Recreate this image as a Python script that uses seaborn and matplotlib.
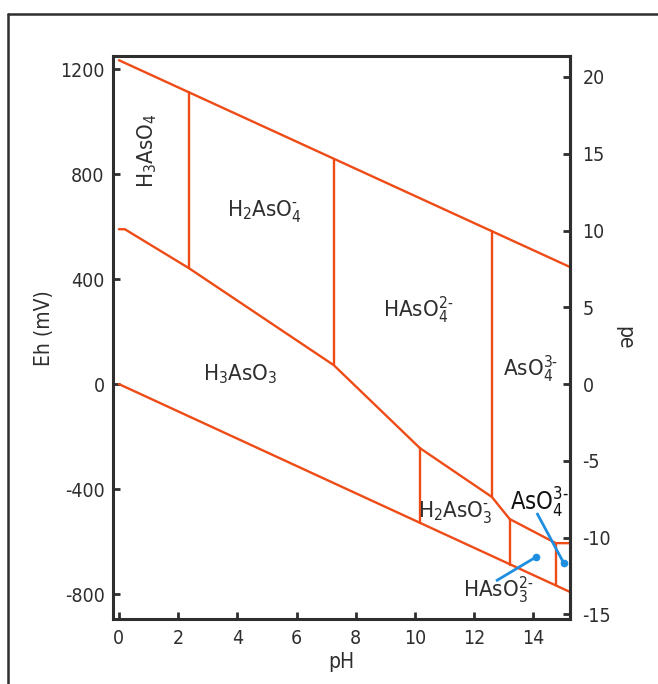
import pandas as pd
import seaborn as sns
import matplotlib.pyplot as plt
from matplotlib.lines import Line2D

RED = '#EE4B16'
BLUE = '#1E8FE0'
INK = '#2E2E2E'

# boundaries: pH and Eh (mV)
upper_water_ph = [0.0, 15.24]
upper_water_eh = [1234, 446]
lower_water_ph = [0.0, 15.24]
lower_water_eh = [0, -792]
redox_ph = [0.0, 0.2, 2.36, 7.26, 10.17, 12.6, 13.2, 14.76, 15.24]
redox_eh = [590, 590, 442, 72, -244, -430, -514, -606, -606]

# vertical (acid/base) boundaries
pka_ph = [2.36, 7.26, 12.6, 10.17, 13.2, 14.76]
pka_eh_low = [442, 72, -430, -530, -690, -767]
pka_eh_high = [1112, 858, 583, -244, -514, -606]

# species names and where they sit
species = [r'H$_2$AsO$_4^{\text{-}}$', r'HAsO$_4^{\text{2-}}$', r'AsO$_4^{\text{3-}}$',
           r'H$_3$AsO$_3$', r'H$_2$AsO$_3^{\text{-}}$', r'HAsO$_3^{\text{2-}}$']
species_ph = [4.9, 10.1, 13.92, 4.09, 11.35, 12.8]
species_eh = [659, 282, 57, 38, -488, -785]

# blue leader lines (start, end)
leader_ph = [[14.12, 15.03], [12.74, 14.09]]
leader_eh = [[-491, -682], [-750, -659]]

eh_ticks = [1200, 800, 400, 0, -400, -800]
pe_ticks = [20, 15, 10, 5, 0, -5, -10, -15]
ph_ticks = [0, 2, 4, 6, 8, 10, 12, 14]
MV_PER_PE = 58.5


def build_segments():
    rows = []
    for i, (x, y) in enumerate(zip(upper_water_ph, upper_water_eh)):
        rows.append(('upper', x, y, i))
    for i, (x, y) in enumerate(zip(lower_water_ph, lower_water_eh)):
        rows.append(('lower', x, y, i))
    for i, (x, y) in enumerate(zip(redox_ph, redox_eh)):
        rows.append(('redox', x, y, i))
    for k, (x, lo, hi) in enumerate(zip(pka_ph, pka_eh_low, pka_eh_high)):
        rows.append((f'pka{k}', x, lo, 0))
        rows.append((f'pka{k}', x, hi, 1))
    return pd.DataFrame(rows, columns=['seg', 'pH', 'Eh', 'order'])


sns.set_theme(style='ticks')
plt.rcParams['font.family'] = ['DejaVu Sans']
plt.rcParams['font.stretch'] = 'condensed'
plt.rcParams['axes.unicode_minus'] = False
plt.rcParams['mathtext.fontset'] = 'custom'
plt.rcParams['mathtext.rm'] = 'DejaVu Sans:stretch=condensed'
plt.rcParams['mathtext.it'] = 'DejaVu Sans:stretch=condensed'
plt.rcParams['mathtext.default'] = 'regular'

fig = plt.figure(figsize=(6.58, 6.84), dpi=100)
ax = fig.add_axes([113 / 658, 1 - 619 / 684, 457 / 658, 563 / 684])

df = build_segments()
sns.lineplot(data=df, x='pH', y='Eh', units='seg', estimator=None, sort=False,
             color=RED, lw=1.7, ax=ax, legend=False)

for xs, ys in zip(leader_ph, leader_eh):
    ax.plot(xs, ys, color=BLUE, lw=2.0, solid_capstyle='butt')
    ax.plot(xs[1], ys[1], 'o', color=BLUE, ms=4.5)

ax.set_xlim(-0.2, 15.24)
ax.set_ylim(-895, 1250)
ax.set_xticks(ph_ticks)
ax.set_yticks(eh_ticks)
ax.set_xlabel('pH', fontsize=15, color=INK, labelpad=3)
ax.set_ylabel('Eh (mV)', fontsize=15, color=INK)
ax.yaxis.set_label_coords(-0.13, 0.517)

for side in ['left', 'right', 'top', 'bottom']:
    ax.spines[side].set_visible(True)
    ax.spines[side].set_linewidth(2.2)
    ax.spines[side].set_color(INK)

ax.tick_params(axis='both', direction='in', length=5, width=2, color=INK,
               labelcolor=INK, labelsize=14)
ax.tick_params(axis='y', pad=6)
ax.tick_params(axis='x', pad=7)

sec = ax.secondary_yaxis('right', functions=(lambda e: e / MV_PER_PE,
                                              lambda p: p * MV_PER_PE))
sec.set_yticks(pe_ticks)
sec.spines['right'].set_linewidth(2.2)
sec.spines['right'].set_color(INK)
sec.tick_params(direction='in', length=5, width=2, color=INK,
                labelcolor=INK, labelsize=14, pad=9)
sec.set_ylabel('pe', fontsize=15, color=INK, rotation=270, labelpad=17)

ax.text(0.95, 891, r'H$_3$AsO$_4$', rotation=90, ha='center', va='center',
        fontsize=16, color=INK)
for name, x, y in zip(species, species_ph, species_eh):
    ax.text(x, y, name, ha='center', va='center', fontsize=16, color=INK)
ax.text(14.19, -453, r'AsO$_4^{\text{3-}}$', ha='center', va='center',
        fontsize=17, color='#111111')

# outer frame (top and left edges only)
fig.add_artist(Line2D([8 / 658, 1.0], [1 - 14 / 684, 1 - 14 / 684],
                      transform=fig.transFigure, color=INK, lw=1.8))
fig.add_artist(Line2D([8 / 658, 8 / 658], [0.0, 1 - 14 / 684],
                      transform=fig.transFigure, color=INK, lw=1.8))

fig.savefig('out.png', dpi=100)
